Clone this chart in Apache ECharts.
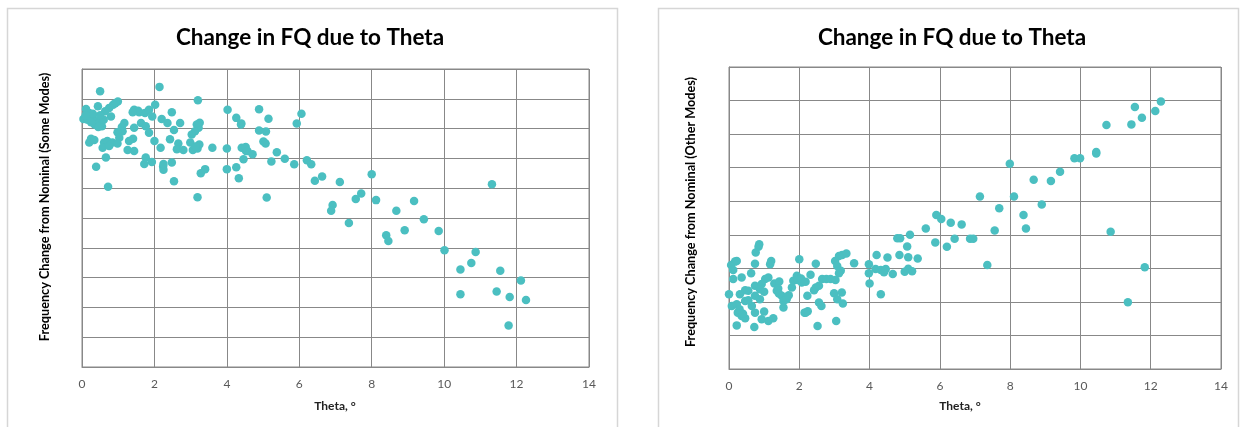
<!DOCTYPE html>
<html>
<head>
<meta charset="utf-8">
<script src="https://cdn.jsdelivr.net/npm/echarts@6/dist/echarts.min.js"></script>
<style>
html,body{margin:0;padding:0;background:#fff;}
#c{width:1244px;height:427px;}
</style>
</head>
<body>
<div id="c"></div>
<script>
// Shared x-axis tick labels
const xTicks = [0, 2, 4, 6, 8, 10, 12, 14];

const titleText = 'Change in FQ due to Theta';
const xName = 'Theta, °';
const yNameLeft = 'Frequency Change from Nominal (Some Modes)';
const yNameRight = 'Frequency Change from Nominal (Other Modes)';

// Left chart: [theta, change] (y in grid units, axis unlabeled)
const someModes = [
  [0.5,9.25],[2.14,9.4],[0.99,8.91],[0.92,8.85],[0.86,8.8],[0.75,8.69],[0.44,8.75],[0.11,8.66],
  [0.2,8.52],[0.04,8.32],[0.29,8.36],[0.39,8.25],[0.48,8.19],[0.55,8.08],[0.35,8.14],[0.25,8.21],
  [0.64,8.58],[0.8,8.41],[0.15,8.3],[0.6,8.3],[0.5,8.45],[0.45,8.05],[1.44,8.63],[1.58,8.55],
  [1.74,8.52],[1.85,8.63],[2.02,8.8],[1.94,8.41],[1.63,8.19],[1.76,8.08],[1.85,7.86],[1.17,8.19],
  [1.1,8.05],[1.12,7.91],[0.98,7.88],[1.03,7.69],[1.41,7.66],[1.3,7.58],[1.44,8.03],[0.25,7.66],
  [0.2,7.53],[0.34,7.62],[0.61,7.53],[0.7,7.58],[0.84,7.53],[0.98,7.5],[0.57,7.36],[0.75,7.42],
  [1.26,7.28],[1.44,7.25],[2.0,7.58],[2.17,7.36],[0.66,7.03],[1.76,7.03],[1.72,6.81],[1.93,6.88],
  [0.39,6.72],[2.24,6.73],[2.25,6.62],[0.72,6.05],[1.55,8.6],[1.4,8.55],[0.3,8.5],[0.1,8.45],
  [3.2,8.95],[2.48,8.55],[2.2,8.32],[2.36,8.19],[2.71,8.19],[2.54,7.95],[3.17,8.14],[3.22,8.03],
  [3.12,7.91],[3.03,7.8],[3.25,8.2],[2.43,7.64],[2.66,7.5],[2.62,7.31],[2.8,7.28],[2.99,7.53],
  [3.06,7.28],[3.19,7.33],[3.24,7.47],[3.14,7.4],[3.6,7.36],[4.0,7.33],[4.02,8.63],[4.26,8.36],
  [4.39,8.14],[4.41,7.36],[4.53,7.25],[4.46,6.97],[4.26,6.7],[4.0,6.64],[4.33,6.33],[3.4,6.64],
  [3.28,6.5],[2.48,6.86],[2.25,6.81],[2.54,6.23],[3.19,5.7],
  [4.89,8.65],[5.15,8.33],[6.06,8.5],[5.93,8.17],[4.89,7.94],[5.08,7.9],[5.01,7.57],[5.07,7.5],
  [4.4,8.17],[4.52,7.38],[4.57,7.25],[4.71,7.14],[5.38,7.21],[5.6,6.99],[5.23,6.9],[5.86,6.8],
  [6.21,6.94],[6.33,6.8],[6.43,6.25],[6.63,6.39],[7.12,6.21],[5.1,5.69],[8.0,6.47],[11.32,6.13],
  [7.71,5.82],[7.56,5.64],[8.12,5.6],[9.17,5.57],[6.92,5.44],[6.88,5.24],[8.68,5.24],[7.37,4.83],
  [9.44,4.96],[8.4,4.42],[8.46,4.23],[8.91,4.59],[9.85,4.56],[10.01,3.92],[10.87,3.86],[10.75,3.49],
  [10.45,3.27],[11.55,3.23],[12.12,2.9],[10.45,2.44],[11.45,2.53],[11.81,2.35],[12.26,2.25],[11.78,1.39]
];

// Right chart: [theta, change]
const otherModes = [
  [0.84,3.64],[0.76,3.47],[0.86,3.72],[0.17,3.2],[0.06,3.1],[0.12,2.95],[0.22,3.22],[0.74,3.14],
  [1.2,3.22],[1.17,3.12],[2.0,3.27],[0.63,2.85],[0.12,2.68],[0.36,2.73],[1.03,2.68],[1.12,2.73],
  [1.29,2.55],[1.43,2.61],[0.74,2.48],[0.93,2.53],[0.88,2.38],[0.55,2.33],[0.46,2.35],[0.0,2.23],
  [0.31,2.23],[0.74,2.18],[0.88,2.08],[1.36,2.33],[1.5,2.18],[1.55,2.03],[1.64,2.08],[1.83,2.63],
  [1.93,2.78],[2.07,2.58],[1.79,2.43],[0.46,2.03],[0.08,1.88],[0.22,1.93],[0.65,1.88],[1.55,1.83],
  [0.25,1.68],[0.36,1.58],[0.46,1.51],[0.74,1.68],[1.0,1.71],[1.26,1.51],[1.12,1.43],[0.93,1.48],
  [0.22,1.3],[0.72,1.25],[2.15,1.68],[0.4,1.65],[0.3,1.78],[1.4,2.4],[1.42,2.25],[1.7,2.2],
  [1.0,2.3],[1.95,2.65],[0.55,2.05],[2.05,2.7],
  [3.22,3.4],[3.34,3.44],[3.13,3.37],[2.47,3.14],[3.02,3.22],[3.56,3.15],[3.08,3.07],[3.18,2.93],
  [3.13,2.85],[2.32,2.81],[2.65,2.68],[2.77,2.68],[2.89,2.68],[3.03,2.65],[2.18,2.6],[2.47,2.43],
  [2.42,2.35],[2.56,2.48],[2.99,2.26],[3.21,2.28],[2.23,2.18],[3.08,2.08],[3.24,1.95],[2.56,1.98],
  [2.63,1.88],[2.18,1.68],[3.05,1.43],[2.52,1.28],[2.24,1.72],
  [3.98,3.12],[4.2,3.4],[4.51,3.32],[4.79,3.9],[3.98,2.85],[4.0,2.55],[4.17,2.98],[4.32,2.95],
  [4.41,2.88],[4.46,2.98],[4.66,2.83],[4.32,2.23],[4.85,3.4],[5.15,4.0],[4.87,3.9],[5.07,3.65],
  [5.1,3.33],[5.37,3.29],[5.1,2.99],[5.21,2.91],[5.0,2.9],[5.6,4.19],[5.9,4.59],[6.04,4.47],
  [6.31,4.36],[6.62,4.31],[6.86,3.88],[6.95,3.88],[6.42,3.88],[6.2,3.64],[5.87,3.77],[7.14,5.14],
  [7.69,4.79],[7.56,4.13],[7.35,3.1],[8.11,5.14],[7.99,6.12],[8.38,4.59],[8.45,4.19],[8.9,4.9],
  [8.67,5.64],[9.16,5.6],[9.42,5.88],[9.83,6.28],[9.99,6.28],[10.45,6.42],[10.45,6.47],[10.74,7.27],
  [10.86,4.09],[11.35,1.99],[11.83,3.03],[11.45,7.29],[11.55,7.81],[11.75,7.49],[12.13,7.69],[12.29,7.97]
];

const FONT = 'Lato, "Open Sans", sans-serif';
const GRID_COLOR = '#888888';
const DOT = '#4bbfc1';

function xAxisDef(gi) {
  return {
    gridIndex: gi, type: 'value', min: xTicks[0], max: xTicks[xTicks.length - 1], interval: xTicks[1] - xTicks[0],
    axisLine: { show: true, lineStyle: { color: GRID_COLOR, width: 1 } },
    axisTick: { show: false },
    axisLabel: { color: '#595959', fontSize: 12, fontFamily: FONT, margin: 11 },
    splitLine: { show: true, lineStyle: { color: GRID_COLOR, width: 1 } }
  };
}
function yAxisDef(gi, max) {
  return {
    gridIndex: gi, type: 'value', min: 0, max: max, interval: 1,
    axisLine: { show: true, lineStyle: { color: GRID_COLOR, width: 1 } },
    axisTick: { show: false },
    axisLabel: { show: false },
    splitLine: { show: true, lineStyle: { color: GRID_COLOR, width: 1 } }
  };
}

const chart = echarts.init(document.getElementById('c'), null, { renderer: 'canvas' });
chart.setOption({
  animation: false,
  backgroundColor: '#fff',
  grid: [
    { left: 82, top: 69, width: 507, height: 298, show: true, borderColor: GRID_COLOR, borderWidth: 1 },
    { left: 729, top: 67, width: 492, height: 302, show: true, borderColor: GRID_COLOR, borderWidth: 1 }
  ],
  xAxis: [xAxisDef(0), xAxisDef(1)],
  yAxis: [yAxisDef(0, 10), yAxisDef(1, 9)],
  series: [
    { type: 'scatter', xAxisIndex: 0, yAxisIndex: 0, data: someModes, symbolSize: 8.5, itemStyle: { color: DOT, opacity: 1 } },
    { type: 'scatter', xAxisIndex: 1, yAxisIndex: 1, data: otherModes, symbolSize: 8.5, itemStyle: { color: DOT, opacity: 1 } }
  ],
  graphic: [
    { type: 'rect', z: -10, silent: true, shape: { x: 7.5, y: 8.5, width: 610, height: 430 }, style: { fill: '#fff', stroke: '#d6d6d6', lineWidth: 1.5 } },
    { type: 'rect', z: -10, silent: true, shape: { x: 658.5, y: 8.5, width: 580, height: 430 }, style: { fill: '#fff', stroke: '#d6d6d6', lineWidth: 1.5 } },
    { type: 'text', x: 310, y: 38, style: { text: titleText, font: 'bold 22.5px ' + FONT, fill: '#000', align: 'center', verticalAlign: 'middle' } },
    { type: 'text', x: 952, y: 38, style: { text: titleText, font: 'bold 22.5px ' + FONT, fill: '#000', align: 'center', verticalAlign: 'middle' } },
    { type: 'text', x: 45, y: 207, rotation: Math.PI / 2, style: { text: yNameLeft, font: 'bold 12.7px ' + FONT, fill: '#000', align: 'center', verticalAlign: 'middle' } },
    { type: 'text', x: 691, y: 212, rotation: Math.PI / 2, style: { text: yNameRight, font: 'bold 12.7px ' + FONT, fill: '#000', align: 'center', verticalAlign: 'middle' } },
    { type: 'text', x: 335, y: 406, style: { text: xName, font: 'bold 12px ' + FONT, fill: '#222', align: 'center', verticalAlign: 'middle' } },
    { type: 'text', x: 960, y: 406, style: { text: xName, font: 'bold 12px ' + FONT, fill: '#222', align: 'center', verticalAlign: 'middle' } }
  ]
});
</script>
</body>
</html>
